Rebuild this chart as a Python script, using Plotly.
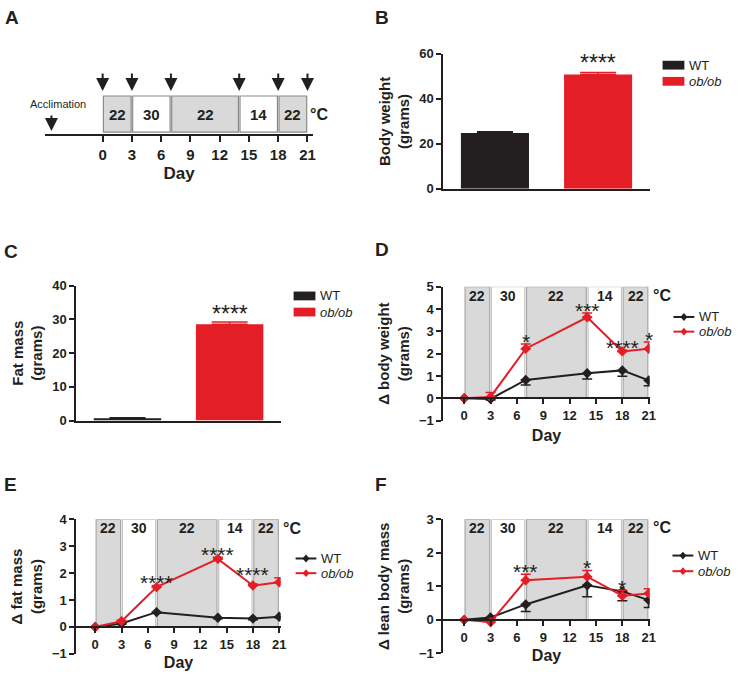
import plotly.graph_objects as go

W, H = 738, 676
def PX(x): return x / W
def PY(y): return 1 - y / H

FONT = "Liberation Sans, Arial, sans-serif"
BLACK = "#231f20"
RED = "#e41e26"
GREY_FILL = "#d9d9d9"

# ---------------- data ----------------
groups = ["WT", "ob/ob"]
group_colors = [BLACK, RED]
body_weight = [24.8, 50.9]
body_weight_sem = [0.6, 0.8]
fat_mass = [0.7, 28.6]
fat_mass_sem = [0.15, 0.6]

phase_start = [0, 3, 7, 14, 18]
phase_end = [3, 7, 14, 18, 21]
phase_temp = ["22", "30", "22", "14", "22"]
phase_shaded = [True, False, True, False, True]
measure_days = [0, 3, 7, 14, 18, 21]
tick_days = [0, 3, 6, 9, 12, 15, 18, 21]

d_bw_wt = [0, -0.03, 0.82, 1.12, 1.25, 0.80]
d_bw_wt_sem = [0, 0.05, 0.22, 0.26, 0.26, 0.24]
d_bw_ob = [0, 0.06, 2.22, 3.63, 2.10, 2.22]
d_bw_ob_sem = [0, 0.20, 0.21, 0.19, 0.05, 0.30]

d_fat_wt = [0, 0.13, 0.55, 0.34, 0.31, 0.38]
d_fat_wt_sem = [0, 0.03, 0.04, 0.04, 0.04, 0.04]
d_fat_ob = [0, 0.21, 1.48, 2.53, 1.54, 1.66]
d_fat_ob_sem = [0, 0.04, 0.06, 0.06, 0.06, 0.17]

d_lean_wt = [0, 0.07, 0.46, 1.03, 0.85, 0.59]
d_lean_wt_sem = [0, 0.03, 0.21, 0.34, 0.28, 0.22]
d_lean_ob = [0, -0.07, 1.18, 1.29, 0.72, 0.79]
d_lean_ob_sem = [0, 0.03, 0.18, 0.18, 0.16, 0.14]

# significance labels (day, label)
sig_bw = [(7, "*"), (14, "***"), (18, "****"), (21, "*")]
sig_fat = [(7, "****"), (14, "****"), (18, "****")]
sig_lean = [(7, "***"), (14, "*"), (18, "*")]
sig_bar = "****"

fig = go.Figure()
shapes = []
annotations = []

def ann(text, x, y, xref, yref, size, bold=False, xanchor="center", yanchor="middle",
        color=BLACK, yshift=0, xshift=0, italic=False):
    annotations.append(dict(text=text, x=x, y=y, xref=xref, yref=yref, showarrow=False,
                            xanchor=xanchor, yanchor=yanchor, yshift=yshift, xshift=xshift,
                            font=dict(family=FONT, size=size, color=color,
                                      weight="bold" if bold else "normal",
                                      style="italic" if italic else "normal")))

tickfont = dict(family=FONT, size=13, color=BLACK, weight="bold")
titlefont = dict(family=FONT, size=15, color=BLACK, weight="bold")

# ---------------- panel A ----------------
ax_a = dict(domain=[PX(45), PX(316)], range=[(45 - 103.5) / 9.833, (316 - 103.5) / 9.833],
            showline=True, linewidth=2, linecolor=BLACK, ticks="outside", ticklen=6,
            tickwidth=2, tickcolor=BLACK, tickvals=tick_days, showgrid=False, zeroline=False,
            tickfont=dict(family=FONT, size=15, color=BLACK, weight="bold"),
            title=dict(text="Day", font=dict(family=FONT, size=17, color=BLACK, weight="bold"), standoff=5),
            anchor="y")
ay_a = dict(domain=[PY(130), PY(60)], range=[0, 1], visible=False, anchor="x")
for s, e, t, sh in zip(phase_start, phase_end, phase_temp, phase_shaded):
    shapes.append(dict(type="rect", xref="x", yref="y", x0=s + 0.08, x1=e - 0.08, y0=0.03, y1=0.557,
                       fillcolor=GREY_FILL if sh else "white", line=dict(color="#8a8a8a", width=1.2)))
    ann(t, (s + e) / 2, 0.286, "x", "y", 15, bold=True)
for d in measure_days:
    annotations.append(dict(x=d, y=0.63, xref="x", yref="y", ax=0, ay=-19, axref="pixel", ayref="pixel",
                            text="", showarrow=True, arrowhead=2, arrowsize=1.3, arrowwidth=2,
                            arrowcolor=BLACK))
annotations.append(dict(x=-5.25, y=0.047, xref="x", yref="y", ax=0, ay=-17, text="", showarrow=True,
                        arrowhead=2, arrowsize=1.3, arrowwidth=2, arrowcolor=BLACK))
ann("Acclimation", -4.6, 0.443, "x", "y", 11)
ann("°C", 21.0, 0.286, "x", "y", 16, bold=True, xanchor="left", xshift=1)

# ---------------- bar panels (B, C) ----------------
def bar_panel(n, xdom, ydom, yrange, ytick, values, sems, ytitle, star_pad):
    xa, ya = f"x{n}", f"y{n}"
    for i, (g, v, s, c) in enumerate(zip(groups, values, sems, group_colors)):
        fig.add_trace(go.Bar(x=[i], y=[v], width=0.66, marker=dict(color=c, line=dict(width=0)),
                             error_y=dict(type="data", symmetric=False, array=[s], arrayminus=[0],
                                          color=c, thickness=1.5, width=18),
                             name=g, showlegend=False, xaxis=xa, yaxis=ya))
    top = values[1] + sems[1]
    ann(sig_bar, 1, top, xa, ya, 23, yanchor="middle", yshift=star_pad)
    return (dict(domain=xdom, range=[-0.5, 1.5], showline=True, linewidth=2, linecolor=BLACK,
                 showticklabels=False, ticks="", showgrid=False, zeroline=False, anchor=ya),
            dict(domain=ydom, range=yrange, tickvals=ytick, showline=True, linewidth=2, linecolor=BLACK,
                 ticks="outside", ticklen=5, tickwidth=2, tickcolor=BLACK, tickfont=tickfont,
                 showgrid=False, zeroline=False, anchor=xa,
                 title=dict(text=ytitle, font=titlefont, standoff=6)))

ax_b, ay_b = bar_panel(2, [PX(447), PX(655)], [PY(186), PY(48)], [0, 60], [0, 20, 40, 60],
                       body_weight, body_weight_sem, "Body weight<br>(grams)", 10)
ax_c, ay_c = bar_panel(3, [PX(77), PX(283)], [PY(423), PY(285)], [0, 40], [0, 10, 20, 30, 40],
                       fat_mass, fat_mass_sem, "Fat mass<br>(grams)", 8)

def bar_legend(x, y1, y2):
    for yy, g, c in zip([y1, y2], groups, group_colors):
        shapes.append(dict(type="rect", xref="paper", yref="paper", x0=PX(x), x1=PX(x + 22),
                           y0=PY(yy + 4.5), y1=PY(yy - 4.5), fillcolor=c, line=dict(width=0)))
        ann(g, PX(x + 25), PY(yy), "paper", "paper", 13, xanchor="left", italic=(g != "WT"))

bar_legend(668, 59.5, 76)
bar_legend(296, 295.5, 312)

# ---------------- time-course panels (D, E, F) ----------------
def time_panel(n, xpx, x0px, x21px, ydom, zero_px, yrange, wt, wt_sem, ob, ob_sem, ytitle,
               sigs, label_y, sig_shift, day_standoff):
    xa, ya = f"x{n}", f"y{n}"
    ppd = (x21px - x0px) / 21
    xr = [(xpx[0] - x0px) / ppd, (xpx[1] - x0px) / ppd]
    ytop = yrange[1]
    for s, e, t, sh in zip(phase_start, phase_end, phase_temp, phase_shaded):
        shapes.append(dict(type="rect", xref=xa, yref=ya, x0=s + 0.1, x1=e - 0.1, y0=0, y1=ytop,
                           fillcolor=GREY_FILL if sh else "white", layer="below",
                           line=dict(color="#a8a8a8" if sh else "#c4c4c4", width=1.2)))
        ann(t, (s + e) / 2, label_y, xa, ya, 14, bold=True)
    ann("°C", 21.0, label_y, xa, ya, 16, bold=True, xanchor="left", xshift=2)
    for g, vals, sem, c, up in [("WT", wt, wt_sem, BLACK, False), ("ob/ob", ob, ob_sem, RED, True)]:
        ey = dict(type="data", symmetric=False, color=c, thickness=1.5, width=5,
                  array=sem if up else [0] * len(sem), arrayminus=[0] * len(sem) if up else sem)
        fig.add_trace(go.Scatter(x=measure_days, y=vals, mode="lines+markers", name=g,
                                 line=dict(color=c, width=2), marker=dict(symbol="diamond", size=8, color=c),
                                 error_y=ey, showlegend=False, xaxis=xa, yaxis=ya))
    for (d, lab), sh in zip(sigs, sig_shift):
        i = measure_days.index(d)
        top = ob[i] + ob_sem[i]
        ann(lab, d, top, xa, ya, 21, yshift=sh)
    ny = list(range(int(yrange[0]), int(yrange[1]) + 1))
    return (dict(domain=[PX(xpx[0]), PX(xpx[1])], range=xr, showline=True, linewidth=2, linecolor=BLACK,
                 ticks="outside", ticklen=5, tickwidth=2, tickcolor=BLACK, tickvals=tick_days,
                 tickfont=tickfont, showgrid=False, zeroline=False, anchor="free", position=PY(zero_px),
                 title=dict(text="Day", font=dict(family=FONT, size=16, color=BLACK, weight="bold"),
                            standoff=day_standoff)),
            dict(domain=ydom, range=yrange, tickvals=ny, showline=True, linewidth=2, linecolor=BLACK,
                 ticks="outside", ticklen=5, tickwidth=2, tickcolor=BLACK, tickfont=tickfont,
                 showgrid=False, zeroline=False, anchor=xa,
                 title=dict(text=ytitle, font=titlefont, standoff=6)))

ax_d, ay_d = time_panel(4, (447, 655), 468, 654, [PY(423), PY(286)], 400, [-1, 5],
                        d_bw_wt, d_bw_wt_sem, d_bw_ob, d_bw_ob_sem, "Δ body weight<br>(grams)",
                        sig_bw, 4.6, [3, 3, 3, 3], 7)
ax_e, ay_e = time_panel(5, (77, 283), 96, 281.5, [PY(661.5), PY(524)], 634, [-1, 4],
                        d_fat_wt, d_fat_wt_sem, d_fat_ob, d_fat_ob_sem, "Δ fat mass<br>(grams)",
                        sig_fat, 3.67, [3, 3, 9], 5)
ax_f, ay_f = time_panel(6, (447, 655), 468, 654, [PY(661), PY(524)], 627, [-1, 3],
                        d_lean_wt, d_lean_wt_sem, d_lean_ob, d_lean_ob_sem, "Δ lean body mass<br>(grams)",
                        sig_lean, 2.75, [3, 3, 3], 5)

def line_legend(x, y1, y2):
    for yy, g, c in zip([y1, y2], groups, group_colors):
        shapes.append(dict(type="line", xref="paper", yref="paper", x0=PX(x), x1=PX(x + 21),
                           y0=PY(yy), y1=PY(yy), line=dict(color=c, width=2)))
        cx, cy = x + 10.5, yy
        path = (f"M {PX(cx)} {PY(cy - 4)} L {PX(cx + 3.5)} {PY(cy)} L {PX(cx)} {PY(cy + 4)} "
                f"L {PX(cx - 3.5)} {PY(cy)} Z")
        shapes.append(dict(type="path", xref="paper", yref="paper", path=path, fillcolor=c,
                           line=dict(color=c, width=0)))
        ann(g, PX(x + 24), PY(yy), "paper", "paper", 13, xanchor="left", italic=(g != "WT"))

line_legend(679, 317, 332)
line_legend(298, 564, 579)
line_legend(678, 561, 577)

# panel letters
for lab, x, y in [("A", 3, 11), ("B", 376, 11), ("C", 2, 250), ("D", 376, 248), ("E", 2, 488), ("F", 376, 488)]:
    ann(lab, PX(x), PY(y), "paper", "paper", 19, bold=True, xanchor="left")

fig.update_layout(
    width=W, height=H, margin=dict(l=0, r=0, t=0, b=0),
    paper_bgcolor="white", plot_bgcolor="rgba(0,0,0,0)",
    showlegend=False, shapes=shapes, annotations=annotations,
    xaxis=ax_a, yaxis=ay_a, xaxis2=ax_b, yaxis2=ay_b, xaxis3=ax_c, yaxis3=ay_c,
    xaxis4=ax_d, yaxis4=ay_d, xaxis5=ax_e, yaxis5=ay_e, xaxis6=ax_f, yaxis6=ay_f,
    font=dict(family=FONT, color=BLACK),
)
fig.write_html("out.html", config={"displayModeBar": False},
               post_script="document.documentElement.style.margin='0px';document.body.style.margin='0px';"
                           "document.body.style.padding='0px';document.documentElement.style.overflow='hidden';"
                           "document.body.style.overflow='hidden';")
